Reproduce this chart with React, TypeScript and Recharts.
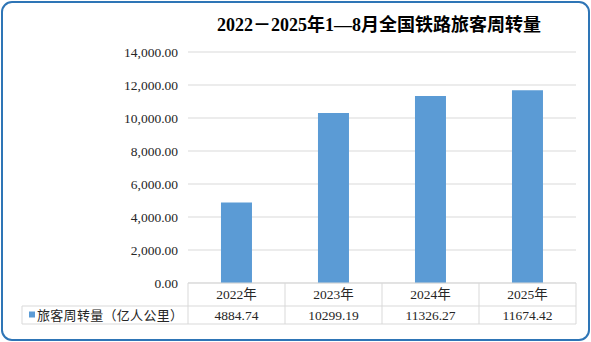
import React from 'react';
import { BarChart, Bar, XAxis, YAxis, CartesianGrid } from 'recharts';

const categories = ['2022年', '2023年', '2024年', '2025年'];
const passengerKm = [4884.74, 10299.19, 11326.27, 11674.42];
const valueLabels = ['4884.74', '10299.19', '11326.27', '11674.42'];
const yTicks = [0, 2000, 4000, 6000, 8000, 10000, 12000, 14000];
const seriesName = '旅客周转量（亿人公里）';
const title = '2022－2025年1—8月全国铁路旅客周转量';

const data = categories.map((c, i) => ({ name: c, value: passengerKm[i], label: valueLabels[i] }));

const W = 591;
const H = 342;
const PLOT_LEFT = 188;
const PLOT_RIGHT = 15;
const PLOT_TOP = 52;
const TABLE_ROW1 = 23;
const TABLE_ROW2 = 18;
const BOTTOM = 18;
const LEGEND_LEFT = 22;
const FONT = '"Liberation Serif", "Times New Roman", "Noto Sans CJK SC", serif';
const BLUE = '#5B9BD5';
const LINE = '#D9D9D9';
const TEXT = '#262626';

const fmt = (v: number) =>
  v.toLocaleString('en-US', { minimumFractionDigits: 2, maximumFractionDigits: 2 });

const YTick = (props: any) => {
  const { y, payload } = props;
  return (
    <text x={PLOT_LEFT - 10} y={y} dy={4.5} textAnchor="end" fontSize={13.5} fill={TEXT} fontFamily={FONT}>
      {fmt(payload.value)}
    </text>
  );
};

const TableTick = (props: any) => {
  const { x, index } = props;
  const cellW = (W - PLOT_LEFT - PLOT_RIGHT) / categories.length;
  const top = H - BOTTOM - TABLE_ROW1 - TABLE_ROW2;
  const mid = top + TABLE_ROW1;
  const bottom = mid + TABLE_ROW2;
  const left = x - cellW / 2;
  const right = x + cellW / 2;
  const row = data[index];
  return (
    <g fontFamily={FONT}>
      {index === 0 && (
        <g>
          <line x1={LEGEND_LEFT} y1={mid} x2={left} y2={mid} stroke={LINE} />
          <line x1={LEGEND_LEFT} y1={bottom} x2={left} y2={bottom} stroke={LINE} />
          <line x1={LEGEND_LEFT} y1={mid} x2={LEGEND_LEFT} y2={bottom} stroke={LINE} />
          <line x1={left} y1={top} x2={left} y2={bottom} stroke={LINE} />
          <rect x={29} y={mid + 5.5} width={6} height={6} fill={BLUE} />
          <text x={37} y={mid + 13.5} fontSize={13} fill={TEXT} letterSpacing={0.3}>
            {seriesName}
          </text>
        </g>
      )}
      <line x1={left} y1={top} x2={right} y2={top} stroke={LINE} />
      <line x1={left} y1={mid} x2={right} y2={mid} stroke={LINE} />
      <line x1={left} y1={bottom} x2={right} y2={bottom} stroke={LINE} />
      <line x1={right} y1={top} x2={right} y2={bottom} stroke={LINE} />
      <text x={x} y={top + 16} textAnchor="middle" fontSize={13.5} fill={TEXT}>
        {row.name}
      </text>
      <text x={x} y={mid + 14} textAnchor="middle" fontSize={13.5} fill={TEXT}>
        {row.label}
      </text>
    </g>
  );
};

export default function App() {
  return (
    <div
      style={{
        position: 'absolute',
        left: 0,
        top: 0,
        width: W,
        height: H,
        background: '#fff',
      }}
    >
      <div
        style={{
          position: 'absolute',
          left: 1,
          top: 1,
          width: W - 2,
          height: H - 2,
          boxSizing: 'border-box',
          border: '2px solid #2E75B6',
          borderRadius: 11,
        }}
      />
      <div
        style={{
          position: 'absolute',
          left: 217,
          top: 10,
          fontFamily: FONT,
          fontSize: 18,
          fontWeight: 'bold',
          color: '#000',
          whiteSpace: 'nowrap',
        }}
      >
        {title}
      </div>
      <div style={{ position: 'absolute', left: 0, top: 0 }}>
        <BarChart
          width={W}
          height={H}
          data={data}
          margin={{ top: PLOT_TOP, right: PLOT_RIGHT, left: 0, bottom: BOTTOM }}
          barCategoryGap="34%"
        >
          <CartesianGrid vertical={false} stroke={LINE} />
          <YAxis
            width={PLOT_LEFT}
            domain={[0, 14000]}
            ticks={yTicks}
            axisLine={false}
            tickLine={false}
            tick={<YTick />}
            interval={0}
          />
          <XAxis
            dataKey="name"
            height={TABLE_ROW1 + TABLE_ROW2}
            axisLine={false}
            tickLine={false}
            tick={<TableTick />}
            interval={0}
          />
          <Bar dataKey="value" fill={BLUE} isAnimationActive={false} />
        </BarChart>
      </div>
    </div>
  );
}
